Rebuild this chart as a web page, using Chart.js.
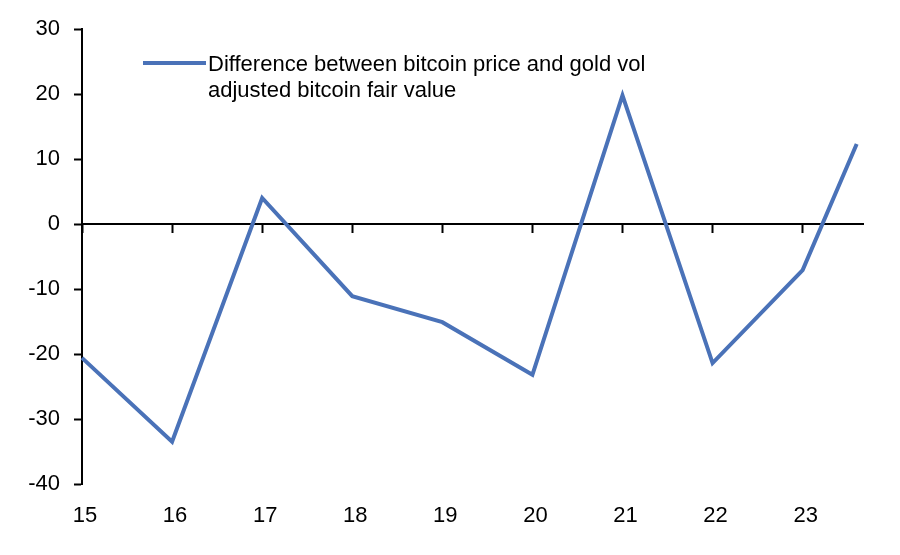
<!DOCTYPE html>
<html>
<head>
<meta charset="utf-8">
<script src="https://cdn.jsdelivr.net/npm/chart.js@4"></script>
<style>
    html, body { margin: 0; padding: 0; background: #fff; }
    #wrap { width: 900px; height: 555px; position: relative; }
</style>
</head>
<body>
<div id="wrap"><canvas id="lineChart" width="900" height="555"></canvas></div>
<script>
// data
const years = [15, 16, 17, 18, 19, 20, 21, 22, 23, 23.6];
const gapValues = [-20.6, -33.5, 4.0, -11.1, -15.1, -23.2, 19.8, -21.4, -7.1, 12.3];
const yearTicks = [15, 16, 17, 18, 19, 20, 21, 22, 23];
const seriesLabel = ["Difference between bitcoin price and gold vol", "adjusted bitcoin fair value"];

const FONT = "'Liberation Sans', Arial, sans-serif";
const BLUE = "#4a72b8";

// legend drawn inside the plot, top left
const legendInside = {
    id: 'legendInside',
    afterDraw: function (chart) {
        const ctx = chart.ctx;
        const ds = chart.data.datasets[0];
        ctx.save();
        ctx.strokeStyle = ds.borderColor;
        ctx.lineWidth = ds.borderWidth;
        ctx.beginPath();
        ctx.moveTo(143, 63);
        ctx.lineTo(206, 63);
        ctx.stroke();
        ctx.fillStyle = "#000";
        ctx.font = "22px " + FONT;
        ctx.textBaseline = "alphabetic";
        seriesLabel.forEach((t, i) => {
            ctx.fillText(t, 208, 71 + i * 26);
        });
        ctx.restore();
    }
};

var ctx = document.getElementById("lineChart").getContext("2d");

new Chart(ctx, {
    type: 'line',
    data: {
        datasets: [{
            label: seriesLabel.join(' '),
            data: years.map((x, i) => ({x: x, y: gapValues[i]})),
            borderColor: BLUE,
            backgroundColor: BLUE,
            borderWidth: 4,
            pointRadius: 0,
            tension: 0,
            clip: false
        }]
    },
    options: {
        responsive: false,
        animation: false,
        layout: {padding: {top: 29, right: 37, bottom: 0, left: 0}},
        plugins: {
            legend: {display: false},
            tooltip: {enabled: false}
        },
        scales: {
            x: {
                type: 'linear',
                position: 'bottom',
                min: 15,
                max: 23.67,
                afterBuildTicks: axis => { axis.ticks = yearTicks.map(v => ({value: v})); },
                afterFit: axis => { axis.height = 71; },
                border: {display: false},
                grid: {display: false, drawTicks: false},
                ticks: {
                    color: "#000",
                    padding: 19,
                    labelOffset: 3,
                    maxRotation: 0,
                    autoSkip: false,
                    font: {size: 22, family: FONT}
                }
            },
            xZero: {
                type: 'linear',
                axis: 'x',
                position: {y: 0},
                min: 15,
                max: 23.67,
                afterBuildTicks: axis => { axis.ticks = yearTicks.map(v => ({value: v})); },
                border: {display: true, color: "#000", width: 2},
                grid: {drawOnChartArea: false, drawTicks: true, tickLength: 8, tickWidth: 2, color: "#000"},
                ticks: {display: false}
            },
            y: {
                min: -40,
                max: 30,
                afterFit: axis => { axis.width = 82; },
                border: {display: true, color: "#000", width: 2},
                grid: {drawOnChartArea: false, drawTicks: true, tickLength: 8, tickWidth: 2, color: "#000"},
                ticks: {
                    stepSize: 10,
                    color: "#000",
                    padding: 14,
                    font: {size: 22, family: FONT}
                }
            }
        }
    },
    plugins: [legendInside]
});
</script>
</body>
</html>
